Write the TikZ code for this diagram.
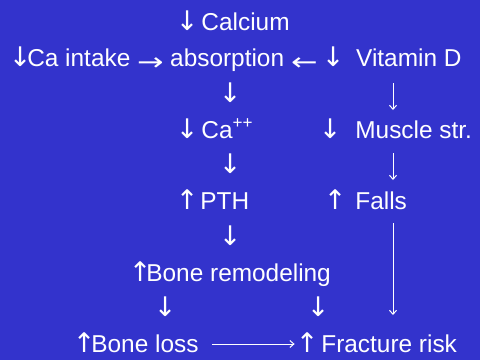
\documentclass[tikz,border=0pt]{standalone}
\usepackage{fontspec}
\setmainfont{Liberation Sans}
\newfontfamily\arrowfont{DejaVu Sans}
\usetikzlibrary{arrows.meta,calc}
\definecolor{slidebg}{RGB}{51,51,204}
% vertical arrow glyph in a box of given width
\newcommand{\gv}[2]{\makebox[#1][l]{\arrowfont\fontsize{27}{27}\selectfont #2}}
% horizontal arrow glyph
\newcommand{\gh}[1]{\raisebox{-4pt}{\scalebox{1.3}[1.0]{\arrowfont #1}}}
\begin{document}
\begin{tikzpicture}[x=1pt,y=-1pt,
  txt/.style={anchor=base west,inner sep=0pt,text=white,font=\fontsize{24.4}{28}\selectfont},
  conn/.style={draw=white,line width=1pt,-{Straight Barb[length=4pt,width=7pt]}}]
\fill[slidebg] (0,0) rectangle (480,360);
\useasboundingbox (0,0) rectangle (480,360);
\coordinate (xr) at (393,0);
% row 1
\node[txt] (calcium) at (175.6,30) {\gv{18.9pt}{↓} Calcium};
% row 2
\node[txt] (intake) at (8.6,66) {\gv{18.5pt}{↓}Ca intake};
\node[txt] (ra) at (136.8,66) {\gh{→}};
\node[txt] (absorption) at (170,66) {absorption};
\node[txt] (la) at (290.8,66) {\gh{←}};
\node[txt] (vitd) at (321.6,66) {\gv{27.6pt}{↓} Vitamin D};
% arrows
\node[txt] (d1) at (218.6,102) {\gv{15pt}{↓}};
% row 3
\node[txt] (ca) at (175.6,138) {\gv{18.9pt}{↓} Ca\textsuperscript{++}};
\node[txt] (muscle) at (318.6,138) {\gv{29.8pt}{↓} Muscle str.};
\node[txt] (d2) at (218.6,173) {\gv{15pt}{↓}};
% row 4
\node[txt] (pth) at (175.6,209) {\gv{17.8pt}{↑} PTH};
\node[txt] (falls) at (323.6,209) {\gv{24.8pt}{↑} Falls};
\node[txt] (d3) at (218.6,245) {\gv{15pt}{↓}};
% row 5
\node[txt] (remod) at (128.6,281) {\gv{17.6pt}{↑}Bone remodeling};
\node[txt] (d4) at (153.6,316) {\gv{15pt}{↓}};
\node[txt] (d5) at (306.6,316) {\gv{15pt}{↓}};
% row 6
\node[txt] (boneloss) at (72.6,352) {\gv{18.6pt}{↑}Bone loss};
\node[txt] (fracture) at (295.6,352) {\gv{18.8pt}{↑} Fracture risk};
% drawn connectors
\draw[conn] ($(vitd.base -| xr)+(0,17)$) -- ($(muscle.base -| xr)+(0,-28)$);
\draw[conn] ($(muscle.base -| xr)+(0,15)$) -- ($(falls.base -| xr)+(0,-29)$);
\draw[conn] ($(falls.base -| xr)+(0,14)$) -- ($(fracture.base -| xr)+(0,-37)$);
\draw[conn] ($(boneloss.base east)+(13,-8)$) -- ($(fracture.base west)+(-1,-8)$);
\end{tikzpicture}
\end{document}
